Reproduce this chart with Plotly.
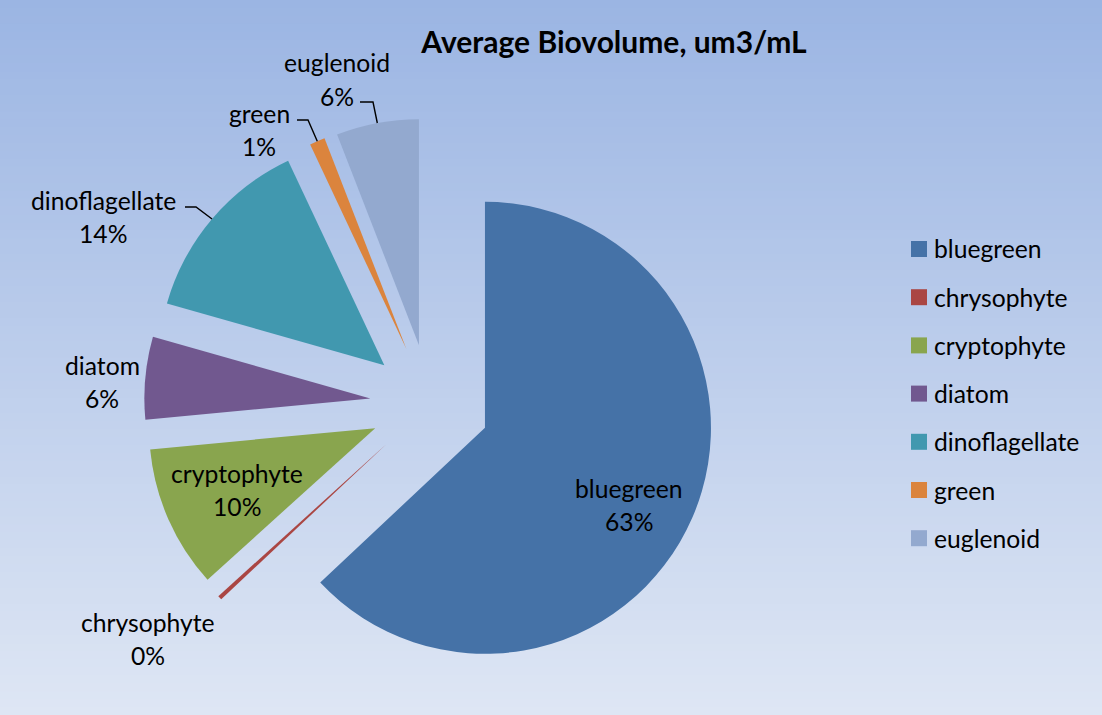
import math
import plotly.graph_objects as go

# ---------------- data ----------------
categories = ["bluegreen", "chrysophyte", "cryptophyte", "diatom",
              "dinoflagellate", "green", "euglenoid"]
values = [63.0, 0.3, 10.2, 5.9, 13.6, 1.1, 5.9]
colors = ["#4572A7", "#AA4643", "#89A54E", "#71588F",
          "#4198AF", "#DB843D", "#93A9CF"]
title_text = "Average Biovolume, um3/mL"

# ---------------- layout constants (pixels) ----------------
W, H = 1102, 715
FONT = "Lato"
FS = 24.7
pull = 0.265
cx_px, cy_px, r_px = 430, 404, 226
box = 2 * r_px * (1 + pull)

def px(x):
    return x / W

def py(y):
    return 1 - y / H

dom_x = [px(cx_px - box / 2), px(cx_px + box / 2)]
dom_y = [py(cy_px + box / 2), py(cy_px - box / 2)]

fig = go.Figure()
fig.add_trace(go.Pie(
    labels=categories, values=values, sort=False,
    direction="clockwise", rotation=0, pull=pull,
    marker=dict(colors=colors, line=dict(width=0)),
    textinfo="none", showlegend=False, domain=dict(x=dom_x, y=dom_y),
    hovertemplate="%{label}: %{percent}<extra></extra>",
))

shapes = []
annotations = []

# gradient background
top = (155, 181, 227)
bot = (222, 230, 244)
N = 90
for i in range(N):
    t = i / (N - 1)
    c = tuple(round(top[k] + (bot[k] - top[k]) * t) for k in range(3))
    shapes.append(dict(type="rect", xref="paper", yref="paper", layer="below",
                       x0=0, x1=1, y0=1 - (i + 1) / N - 0.002, y1=1 - i / N,
                       fillcolor="rgb(%d,%d,%d)" % c, line=dict(width=0)))

# data labels
total = sum(values)
pcts = [round(v / total * 100) for v in values]
label_pos = {
    "bluegreen": (629, 488),
    "chrysophyte": (148, 622),
    "cryptophyte": (237, 473),
    "diatom": (102, 365),
    "dinoflagellate": (103, 200),
    "green": (259, 113),
    "euglenoid": (337, 63),
}
leader_start = {
    "dinoflagellate": (185, 207, 196),
    "green": (297, 120, 308),
    "euglenoid": (360, 102, 373),
}
cum = 0.0
for name, v, p in zip(categories, values, pcts):
    mid = (cum + v / 2) / total * 2 * math.pi
    cum += v
    lx, ly = label_pos[name]
    annotations.append(dict(x=px(lx), y=py(ly), xref="paper", yref="paper",
                            text=name, showarrow=False, xanchor="center", yanchor="middle",
                            font=dict(family=FONT, size=FS, color="black")))
    annotations.append(dict(x=px(lx), y=py(ly + 33), xref="paper", yref="paper",
                            text="%d%%" % p, showarrow=False, xanchor="center", yanchor="middle",
                            font=dict(family=FONT, size=FS, color="black")))
    if name in leader_start:
        sx, sy, ex = leader_start[name]
        ax = cx_px + r_px * (1 + pull) * math.sin(mid)
        ay = cy_px - r_px * (1 + pull) * math.cos(mid)
        path = "M %.5f %.5f L %.5f %.5f L %.5f %.5f" % (px(sx), py(sy), px(ex), py(sy), px(ax), py(ay))
        shapes.append(dict(type="path", xref="paper", yref="paper", path=path,
                           line=dict(color="black", width=1.4)))

# legend (manual, to match spacing)
leg_x, leg_y0, leg_dy, sq = 911, 249, 48.2, 16
for i, (name, col) in enumerate(zip(categories, colors)):
    yc = leg_y0 + i * leg_dy
    shapes.append(dict(type="rect", xref="paper", yref="paper",
                       x0=px(leg_x), x1=px(leg_x + sq), y0=py(yc + sq / 2), y1=py(yc - sq / 2),
                       fillcolor=col, line=dict(width=0)))
    annotations.append(dict(x=px(leg_x + sq + 5), y=py(yc), xref="paper", yref="paper",
                            text=name, showarrow=False, xanchor="left", yanchor="middle",
                            font=dict(family=FONT, size=FS, color="black")))

fig.update_layout(
    width=W, height=H,
    margin=dict(l=0, r=0, t=0, b=0),
    paper_bgcolor="rgb(%d,%d,%d)" % bot,
    plot_bgcolor="rgba(0,0,0,0)",
    title=dict(text="<b>%s</b>" % title_text, x=px(614), y=py(42),
               xanchor="center", yanchor="middle", xref="paper", yref="paper",
               font=dict(family=FONT, size=30, color="black")),
    shapes=shapes, annotations=annotations, showlegend=False,
)
fig.write_html("out.html",
               config={"displayModeBar": False},
               post_script="document.body.style.margin='0';document.body.style.overflow='hidden';")
